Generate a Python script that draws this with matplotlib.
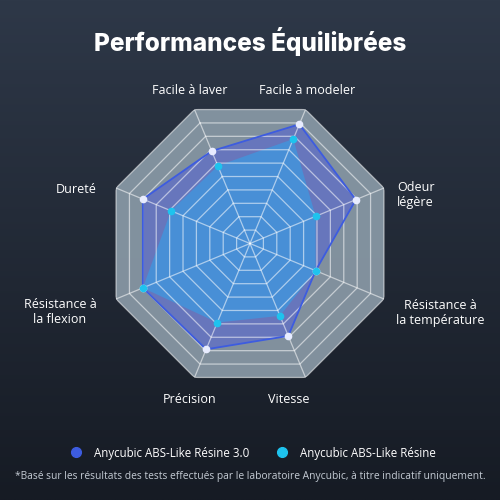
import numpy as np
import matplotlib
matplotlib.use("Agg")
import matplotlib.pyplot as plt
from matplotlib.lines import Line2D

# ---- data ----
categories = ["Facile à laver", "Facile à modeler", "Odeur\nlégère",
              "Résistance à\nla température", "Vitesse", "Précision",
              "Résistance à\nla flexion", "Dureté"]
series_names = ["Anycubic ABS-Like Résine 3.0", "Anycubic ABS-Like Résine"]
abs_v3 = [6.9, 8.9, 7.9, 4.9, 6.9, 7.9, 8.0, 8.0]
abs_v1 = [5.8, 7.8, 4.9, 4.9, 5.4, 5.9, 8.0, 5.9]
ring_levels = list(range(1, 11))

# ---- style ----
BG_TOP = np.array([0x2e, 0x38, 0x48]) / 255
BG_BOT = np.array([0x16, 0x1b, 0x24]) / 255
GRAY = "#8797a4"
BLUE = "#3d5ce0"
BLUE_FILL = "#4f5ddb"
CYAN = "#1ec3ee"
CYAN_FILL = "#2aa8f0"

fig = plt.figure(figsize=(5, 5), dpi=100)

# gradient background
bg = fig.add_axes([0, 0, 1, 1], zorder=-10)
grad = np.linspace(0, 1, 256)[:, None, None]
img = BG_TOP[None, None, :] * (1 - grad) + BG_BOT[None, None, :] * grad
bg.imshow(np.repeat(img, 2, axis=1), aspect="auto", extent=[0, 1, 0, 1])
bg.axis("off")

cx, cy = 0.5, 1 - 243.5 / 500
rad = 145 / 500
ax = fig.add_axes([cx - rad, cy - rad, 2 * rad, 2 * rad], polar=True)
ax.set_theta_offset(np.deg2rad(112.5))
ax.set_theta_direction(-1)
ax.set_ylim(0, 10)
ax.set_facecolor("none")
ax.spines["polar"].set_visible(False)
ax.grid(False)
ax.set_xticks([])
ax.set_yticks([])

n = len(categories)
theta = np.arange(n) * 2 * np.pi / n
tc = np.append(theta, theta[0])

# octagon background
ax.fill(tc, [10] * (n + 1), color=GRAY, alpha=0.95, zorder=1, lw=0)

# series fills
v3 = np.append(abs_v3, abs_v3[0])
v1 = np.append(abs_v1, abs_v1[0])
ax.fill(tc, v3, color=BLUE_FILL, alpha=0.5, zorder=2, lw=0)
ax.fill(tc, v1, color=CYAN_FILL, alpha=0.5, zorder=3, lw=0)

# grid rings and spokes
for r in ring_levels:
    ax.plot(tc, [r] * (n + 1), color="white", lw=0.9, alpha=0.55, zorder=4)
for t in theta:
    ax.plot([t, t], [0, 10], color="white", lw=0.9, alpha=0.55, zorder=4)

# series lines and points
ax.plot(tc, v3, color=BLUE, lw=1.3, zorder=5)
ax.plot(theta, abs_v3, "o", color="#e8ecff", ms=4.5, zorder=6)
ax.plot(theta, abs_v1, "o", color=CYAN, ms=4.5, zorder=6)

# category labels
offsets = [(-4.5, 19.5, "center"), (1.5, 19.5, "center"), (13, -7, "left"),
           (56, -14, "center"), (-16.5, -22.5, "center"), (-4.5, -22.5, "center"),
           (-56, -13, "center"), (-40, -1, "center")]
for t, lab, (dx, dy, ha) in zip(theta, categories, offsets):
    ax.annotate(lab, xy=(t, 10), xytext=(dx, dy), textcoords="offset pixels",
                ha=ha, va="center", color="white", fontsize=9,
                family="Open Sans", linespacing=1.25, annotation_clip=False)

# title
fig.text(0.5, 1 - 42 / 500, "Performances Équilibrées", ha="center", va="center",
         color="white", fontsize=17.5, fontweight="heavy", family="Inter")

# legend
handles = [Line2D([], [], marker="o", ls="none", color=BLUE, ms=7),
           Line2D([], [], marker="o", ls="none", color=CYAN, ms=7)]
fig.legend(handles, series_names, loc="center", bbox_to_anchor=(0.5, 1 - 453 / 500),
           ncol=2, frameon=False, labelcolor="white",
           prop={"family": "Open Sans", "size": 8.3},
           columnspacing=1.8, handletextpad=0.6)

fig.text(0.5, 1 - 476 / 500,
         "*Basé sur les résultats des tests effectués par le laboratoire Anycubic, à titre indicatif uniquement.",
         ha="center", va="center", color="#c4cbd4", fontsize=7.35, family="Open Sans")

fig.savefig("out.png", dpi=100)
